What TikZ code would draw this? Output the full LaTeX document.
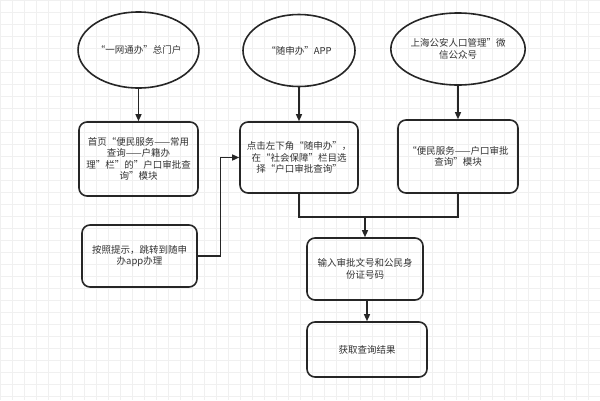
\documentclass[tikz,border=0pt]{standalone}
\usepackage{fontspec}
\newfontfamily\cjk{Noto Sans CJK SC}
\usetikzlibrary{arrows.meta,shapes.geometric}

\begin{document}
\begin{tikzpicture}[x=1pt,y=-1pt,font=\cjk\fontsize{9.5}{11.5}\selectfont,
    every node/.style={text=black!80,align=center},
    portal/.style={draw=black!85,line width=1.6pt,ellipse,inner sep=0pt},
    stepbox/.style={draw=black!85,line width=1.6pt,rounded corners=8pt,inner sep=2pt},
    link/.style={draw=black!85,line width=1.3pt},
    flow/.style={link,-{Triangle[length=7pt,width=6pt]}}]
    % background grid
    \useasboundingbox (0,0) rectangle (600,400);
    \fill[white] (0,0) rectangle (600,400);
    \draw[black!6,line width=0.6pt,step=12pt] (0,0) grid (600,400);

    % entry points
    \node[portal,minimum width=110pt,minimum height=76pt] (ywtb) at (138.5,50) {“一网通办”总门户};
    \node[portal,minimum width=112pt,minimum height=72pt] (ssb) at (299,50.5) {“随申办”APP};
    \node[portal,minimum width=108pt,minimum height=72pt] (wx) at (458,49) {上海公安人口管理”微\\信公众号};

    % steps
    \node[stepbox,minimum width=119pt,minimum height=74pt] (home) at (138.5,159)
      {首页“便民服务——常用\\查询——户籍办\\理”栏”的”户口审批查\\询”模块};
    \node[stepbox,minimum width=118pt,minimum height=71pt] (click) at (299,157.5)
      {点击左下角“随申办”，\\在“社会保障”栏目选\\择“户口审批查询”};
    \node[stepbox,minimum width=120pt,minimum height=73pt] (mod) at (458,156.5)
      {“便民服务——户口审批\\查询”模块};
    \node[stepbox,minimum width=115pt,minimum height=62pt] (jump) at (139.5,256)
      {按照提示，跳转到随申\\办app办理};
    \node[stepbox,minimum width=116pt,minimum height=62pt] (input) at (365,269)
      {输入审批文号和公民身\\份证号码};
    \node[stepbox,minimum width=120pt,minimum height=55pt] (result) at (367,349.5)
      {获取查询结果};

    % connectors
    \draw[flow] (ywtb.south) -- (home.north);
    \draw[flow] (ssb.south) -- (click.north);
    \draw[flow] (wx.south) -- (mod.north);
    \draw[flow] (jump.east) -- ++(23,0) |- (click.west);
    \coordinate (join) at (365,217);
    \draw[link] (click.south) -- (click.south |- join) -- (mod.south |- join) -- (mod.south);
    \draw[flow] (join) -- (input.north);
    \draw[flow] (input.south) -- (input.south -| result.north) -- (result.north);
  \end{tikzpicture}
\end{document}
